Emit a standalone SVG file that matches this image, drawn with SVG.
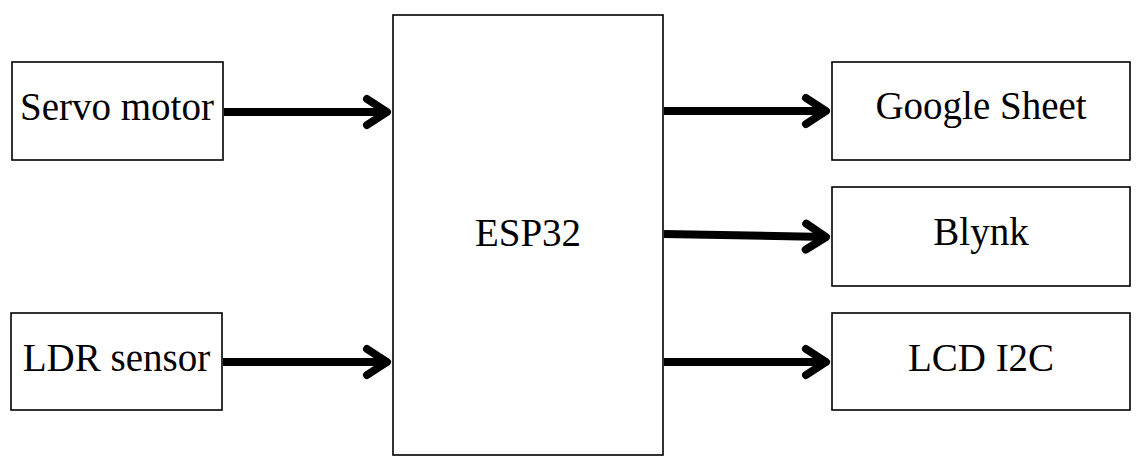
<svg xmlns="http://www.w3.org/2000/svg" width="1146" height="465" viewBox="0 0 1146 465">
<defs>
<style>
.box{fill:#fff;stroke:#000;stroke-width:1.6}
.lbl{font-family:"Liberation Serif","Times New Roman",serif;font-size:39px;fill:#000;text-anchor:middle}
.wire{stroke:#000;stroke-width:8;fill:none;stroke-linecap:butt}
</style>
<marker id="chev" markerUnits="userSpaceOnUse" viewBox="-30 -20 36 40" markerWidth="36" markerHeight="40" refX="0" refY="0" orient="auto">
<path d="M-20,-13 L0,0 L-20,13" fill="none" stroke="#000" stroke-width="8" stroke-linecap="round" stroke-linejoin="round"/>
</marker>
</defs>
<rect width="1146" height="465" fill="#fff"/>
<g id="servo"><rect class="box" x="12" y="62" width="211" height="98"/><text class="lbl" x="117" y="120">Servo motor</text></g>
<g id="ldr"><rect class="box" x="11" y="313" width="211" height="97"/><text class="lbl" x="116.5" y="371">LDR sensor</text></g>
<g id="esp32"><rect class="box" x="393" y="15" width="270" height="440"/><text class="lbl" x="528" y="246">ESP32</text></g>
<g id="gsheet"><rect class="box" x="832" y="62" width="298" height="98"/><text class="lbl" x="981" y="119">Google Sheet</text></g>
<g id="blynk"><rect class="box" x="832" y="187" width="298" height="99"/><text class="lbl" x="981" y="245">Blynk</text></g>
<g id="lcd"><rect class="box" x="832" y="313" width="298" height="97"/><text class="lbl" x="981" y="371">LCD I2C</text></g>
<g id="connectors">
<line class="wire" x1="224" y1="112" x2="387" y2="112" marker-end="url(#chev)"/>
<line class="wire" x1="223" y1="362" x2="387" y2="362" marker-end="url(#chev)"/>
<line class="wire" x1="664" y1="111" x2="826" y2="111" marker-end="url(#chev)"/>
<line class="wire" x1="664" y1="234" x2="826" y2="237" marker-end="url(#chev)"/>
<line class="wire" x1="664" y1="362" x2="826" y2="362" marker-end="url(#chev)"/>
</g>
</svg>
